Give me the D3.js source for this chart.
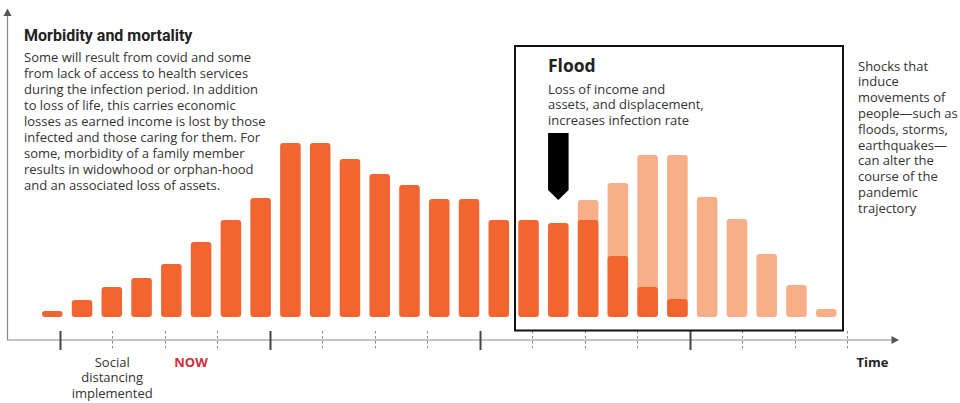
<!DOCTYPE html>
<html>
<head>
<meta charset="utf-8">
<script src="https://cdn.jsdelivr.net/npm/d3@7"></script>
<style>
  html, body { margin: 0; padding: 0; background: #fff; }
  svg { display: block; font-family: "Open Sans", "Noto Sans", sans-serif; }
</style>
</head>
<body>
<svg id="chart" width="960" height="403"></svg>
<script>
// Periods along the time axis (one bar each)
const periods = d3.range(1, 28);
// Covid-driven burden per period (dark orange)
const covidBurden = [6, 17, 30, 39, 53, 75, 97, 119, 174, 174, 158, 143, 132, 118, 118,
                     97, 97, 94, 97, 61, 30, 18, 0, 0, 0, 0, 0];
// Total burden once the flood shock is added (light orange); null = no flood effect
const floodTotal = [null, null, null, null, null, null, null, null, null, null, null, null, null, null, null,
                    null, null, null, 117, 134, 162, 162, 120, 98, 63, 32, 8];
// Tick positions along the time axis and which ones are major
const timeTicks = d3.range(0, 16);
const majorTicks = [0, 4, 8, 12];

const leftTitle = "Morbidity and mortality";
const leftBody = [
  "Some will result from covid and some",
  "from lack of access to health services",
  "during the infection period. In addition",
  "to loss of life, this carries economic",
  "losses as earned income is lost by those",
  "infected and those caring for them. For",
  "some, morbidity of a family member",
  "results in widowhood or orphan-hood",
  "and an associated loss of assets."
];
const floodTitle = "Flood";
const floodBody = ["Loss of income and", "assets, and displacement,", "increases infection rate"];
const shockNote = ["Shocks that", "induce", "movements of", "people\u2014such as", "floods, storms,",
                   "earthquakes\u2014", "can alter the", "course of the", "pandemic", "trajectory"];
const socialLabel = ["Social", "distancing", "implemented"];
const floodStart = 18; // period the flood hits

const DARK = "#f26531", LIGHT = "#f8ae88", AXIS = "#8a8a8a", TEXT = "#333";

const svg = d3.select("#chart");

// Scales
const x = d3.scaleBand().domain(periods).range([42, 836.5]).paddingInner(0.31).paddingOuter(0);
const y = d3.scaleLinear().domain([0, 180]).range([317, 137]);
const t = d3.scaleLinear().domain([0, 15]).range([59.7, 847.3]);
const axisY = 340;

// Flood overlay bars (drawn first, dark bars sit on top)
svg.append("g").selectAll("rect")
  .data(periods.map((p, i) => ({p, v: floodTotal[i]})).filter(d => d.v != null))
  .join("rect")
  .attr("x", d => x(d.p))
  .attr("y", d => y(d.v))
  .attr("width", x.bandwidth())
  .attr("height", d => y(0) - y(d.v))
  .attr("rx", 3)
  .attr("fill", LIGHT);

svg.append("g").selectAll("rect")
  .data(periods.map((p, i) => ({p, v: covidBurden[i]})).filter(d => d.v > 0))
  .join("rect")
  .attr("x", d => x(d.p))
  .attr("y", d => y(d.v))
  .attr("width", x.bandwidth())
  .attr("height", d => y(0) - y(d.v))
  .attr("rx", 3)
  .attr("fill", DARK);

// Axes lines with arrowheads
const axes = svg.append("g");
axes.append("line").attr("x1", 7.5).attr("x2", 7.5).attr("y1", 14).attr("y2", axisY)
  .attr("stroke", AXIS).attr("stroke-width", 1.2);
axes.append("path").attr("d", `M3.5,16 L7.5,8.5 L11.5,16 Z`).attr("fill", "#555");
axes.append("line").attr("x1", 7).attr("x2", 893).attr("y1", axisY).attr("y2", axisY)
  .attr("stroke", AXIS).attr("stroke-width", 1.2);
axes.append("path").attr("d", `M891.5,${axisY - 4} L899,${axisY} L891.5,${axisY + 4} Z`).attr("fill", "#555");

// Time ticks: solid majors, dashed minors
const tickG = svg.append("g");
tickG.selectAll("line")
  .data(timeTicks)
  .join("line")
  .attr("x1", d => Math.round(t(d)) + 0.5)
  .attr("x2", d => Math.round(t(d)) + 0.5)
  .attr("y1", 331)
  .attr("y2", 350)
  .attr("stroke", d => majorTicks.includes(d) ? "#444" : "#888")
  .attr("stroke-width", d => majorTicks.includes(d) ? 2 : 1)
  .attr("stroke-dasharray", d => majorTicks.includes(d) ? null : "2.5,2.5");

// Axis labels
svg.append("text").attr("x", t(1)).attr("y", 366.5).attr("text-anchor", "middle")
  .attr("font-size", 13).attr("fill", TEXT)
  .selectAll("tspan").data(socialLabel).join("tspan")
  .attr("x", t(1)).attr("dy", (d, i) => i ? 15.7 : 0).text(d => d);

svg.append("text").attr("x", t(2.5)).attr("y", 366.5).attr("text-anchor", "middle")
  .attr("font-size", 13).attr("font-weight", 700).attr("fill", "#d22e3e").text("NOW");

svg.append("text").attr("x", 856.5).attr("y", 366.5)
  .attr("font-size", 13).attr("font-weight", 700).attr("fill", "#222").text("Time");

// Left annotation
svg.append("text").attr("x", 24).attr("y", 40.7)
  .attr("font-family", "Roboto, sans-serif")
  .attr("font-size", 16).attr("font-weight", 700).attr("fill", "#222").text(leftTitle);
svg.append("text").attr("x", 24).attr("y", 62.3)
  .attr("font-size", 13).attr("fill", TEXT)
  .selectAll("tspan").data(leftBody).join("tspan")
  .attr("x", 24).attr("dy", (d, i) => i ? 15.9 : 0).text(d => d);

// Flood box
svg.append("rect").attr("x", 515).attr("y", 46).attr("width", 328).attr("height", 284.5)
  .attr("fill", "none").attr("stroke", "#111").attr("stroke-width", 2);
svg.append("text").attr("x", 548).attr("y", 72)
  .attr("font-size", 17.5).attr("font-weight", 700).attr("fill", "#222").text(floodTitle);
svg.append("text").attr("x", 548).attr("y", 93.5)
  .attr("font-size", 13).attr("fill", TEXT)
  .selectAll("tspan").data(floodBody).join("tspan")
  .attr("x", 548).attr("dy", (d, i) => i ? 15.7 : 0).text(d => d);

// Arrow marking the flood shock
const ax0 = x(floodStart), aw = x.bandwidth();
svg.append("path")
  .attr("d", `M${ax0},133 H${ax0 + aw} V190 L${ax0 + aw / 2},200 L${ax0},190 Z`)
  .attr("fill", "#000");

// Right note
svg.append("text").attr("x", 858).attr("y", 70.5)
  .attr("font-size", 13).attr("fill", TEXT)
  .selectAll("tspan").data(shockNote).join("tspan")
  .attr("x", 858).attr("dy", (d, i) => i ? 15.8 : 0).text(d => d);
</script>
</body>
</html>
